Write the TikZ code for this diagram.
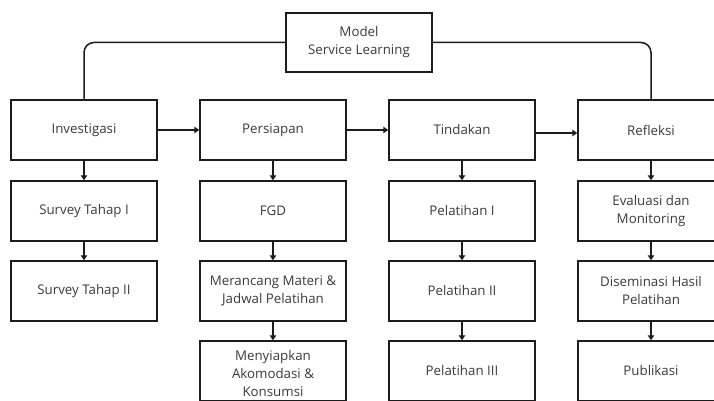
\documentclass[tikz,border=0pt]{standalone}
\usepackage{fontspec}
\setmainfont{Open Sans}
\usetikzlibrary{arrows.meta,calc}
\definecolor{txtc}{HTML}{3A3A3A}
\definecolor{linec}{HTML}{1C1C1C}
\tikzset{
  box/.style={draw=linec, line width=1.5pt, minimum width=146pt, minimum height=60pt, inner sep=1pt,
    align=center, text=txtc, font=\fontsize{13.3}{18}\selectfont},
  txt/.style={text=txtc, align=center, inner sep=0pt, font=\fontsize{13.3}{18}\selectfont},
  conn/.style={draw=linec, line width=1.5pt},
  arr/.style={conn, -{Triangle[length=5pt,width=6.5pt]}}
}
\begin{document}
\begin{tikzpicture}[x=1pt,y=-1pt]
\useasboundingbox (0,0) rectangle (714,401);
\clip (0,0) rectangle (714,401);
% top
\node[box, minimum height=59pt] (model) at (359,42.5) {Model\\Service Learning};
% row 1
\node[box] (inv) at (84,130) {Investigasi};
\node[box] (per) at (273,130) {Persiapan};
\node[box] (tin) at (462,130) {Tindakan};
\node[box] (ref) at (651,130) {Refleksi};
% row 2
\node[box] (inv2) at (84,211) {Survey Tahap I};
\node[box] (per2) at (273,211) {FGD};
\node[box] (tin2) at (462,211) {Pelatihan I};
\node[box] (ref2) at (651,211) {Evaluasi dan\\Monitoring};
% row 3
\node[box] (inv3) at (84,291) {Survey Tahap II};
\node[box] (per3) at (273,291) {Merancang Materi \&\\Jadwal Pelatihan};
\node[box] (tin3) at (462,291) {Pelatihan II};
\node[box] (ref3) at (651,291) {Diseminasi Hasil\\Pelatihan};
% row 4
\node[box] (per4) at (273,371) {};
\node[txt] (per4t) at (273,374) {Menyiapkan\\Akomodasi \&\\Konsumsi};
\node[box] (tin4) at (462,371) {Pelatihan III};
\node[box] (ref4) at (651,371) {Publikasi};
% connectors from model
\draw[conn, rounded corners=10pt] (model.west) -| (inv.north);
\draw[conn, rounded corners=10pt] (model.east) -| (ref.north);
% horizontal arrows
\draw[arr] (inv.east) -- (per.west);
\draw[arr] (per.east) -- (tin.west);
\draw[arr] ([yshift=-3pt]tin.east) -- ([yshift=-3pt]ref.west);
% vertical arrows
\draw[arr] (inv.south) -- (inv2.north);
\draw[arr] (inv2.south) -- (inv3.north);
\draw[arr] (per.south) -- (per2.north);
\draw[arr] (per2.south) -- (per3.north);
\draw[arr] (per3.south) -- (per4.north);
\draw[arr] (tin.south) -- (tin2.north);
\draw[arr] (tin2.south) -- (tin3.north);
\draw[arr] (tin3.south) -- (tin4.north);
\draw[arr] (ref.south) -- (ref2.north);
\draw[arr] (ref2.south) -- (ref3.north);
\draw[arr] (ref3.south) -- (ref4.north);
\end{tikzpicture}
\end{document}
